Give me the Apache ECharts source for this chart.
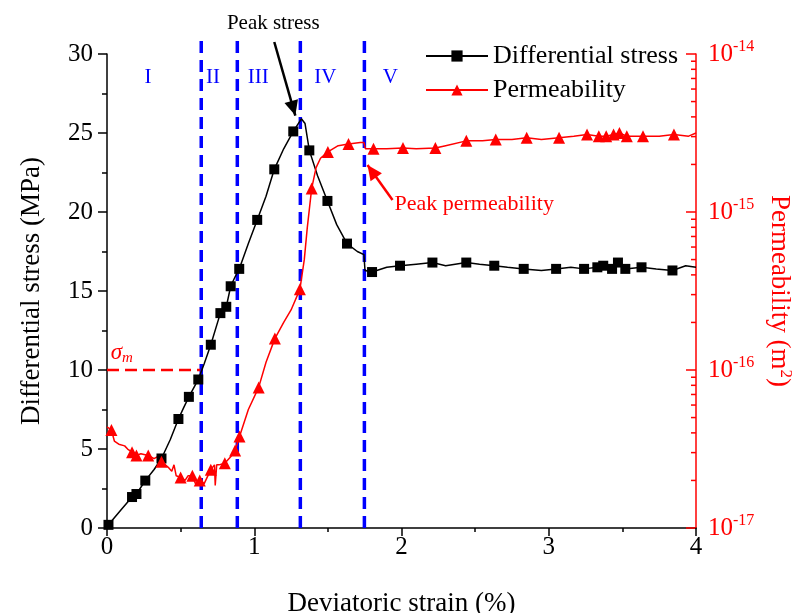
<!DOCTYPE html>
<html><head><meta charset="utf-8">
<script src="https://cdn.jsdelivr.net/npm/echarts@6/dist/echarts.min.js"></script>
<style>html,body{margin:0;padding:0;background:#fff}#c{width:793px;height:613px}</style>
</head><body><div id="c"></div>
<script>
// ---- Data ----
// Differential stress: marker points
const stressMarkStrain = [0.01,0.17,0.20,0.26,0.37,0.485,0.556,0.62,0.705,0.77,0.81,0.84,0.898,1.02,1.136,1.265,1.374,1.497,1.63,1.80,1.99,2.21,2.44,2.63,2.83,3.05,3.24,3.33,3.37,3.43,3.47,3.52,3.63,3.84];
const stressMarkMPa    = [0.2,1.96,2.15,3.0,4.4,6.9,8.3,9.4,11.6,13.6,14.0,15.3,16.4,19.5,22.7,25.1,23.9,20.7,18.0,16.2,16.6,16.8,16.8,16.6,16.4,16.4,16.4,16.5,16.6,16.4,16.8,16.4,16.5,16.3];
// Differential stress: curve vertices between markers
const stressLineStrain = [0,0.10,0.32,0.43,0.52,0.66,0.87,0.96,1.08,1.20,1.32,1.345,1.43,1.56,1.70,1.745,1.752,1.90,2.10,2.30,2.53,2.72,2.95,3.15,3.73,3.93,4.0];
const stressLineMPa    = [0,1.2,3.7,5.6,7.6,10.4,15.9,18.0,21.0,24.0,25.9,25.6,22.3,19.2,17.5,17.3,16.3,16.5,16.7,16.6,16.7,16.5,16.3,16.5,16.4,16.6,16.5];
// Permeability (m^2): marker points
const permMarkStrain = [0.03,0.17,0.20,0.28,0.37,0.50,0.58,0.63,0.705,0.80,0.87,0.90,1.03,1.14,1.31,1.39,1.50,1.64,1.81,2.01,2.23,2.44,2.64,2.85,3.07,3.26,3.34,3.39,3.44,3.48,3.53,3.64,3.85];
const permMarkK      = [4.17e-17,3.02e-17,2.88e-17,2.88e-17,2.63e-17,2.09e-17,2.14e-17,2.00e-17,2.34e-17,2.57e-17,3.09e-17,3.80e-17,7.76e-17,1.58e-16,3.24e-16,1.41e-15,2.40e-15,2.69e-15,2.51e-15,2.54e-15,2.54e-15,2.82e-15,2.88e-15,2.95e-15,2.95e-15,3.09e-15,3.02e-15,3.02e-15,3.09e-15,3.16e-15,3.02e-15,3.02e-15,3.09e-15];
// Permeability: curve vertices between markers
const permLineStrain = [0.0,0.05,0.08,0.12,0.14,0.23,0.32,0.34,0.42,0.44,0.455,0.47,0.53,0.55,0.60,0.66,0.68,0.73,0.735,0.745,0.76,0.84,0.96,1.08,1.20,1.25,1.34,1.36,1.42,1.45,1.57,1.72,1.745,1.755,1.90,2.10,2.30,2.55,2.75,2.95,3.17,3.75,3.95,4.0];
const permLineK      = [4.37e-17,3.55e-17,3.39e-17,3.31e-17,3.16e-17,2.95e-17,2.75e-17,2.82e-17,2.40e-17,2.29e-17,2.51e-17,2.14e-17,2.00e-17,2.14e-17,1.91e-17,1.91e-17,2.09e-17,2.51e-17,1.86e-17,2.51e-17,2.51e-17,2.82e-17,5.62e-17,1.12e-16,2.00e-16,2.40e-16,5.01e-16,7.94e-16,1.91e-15,2.19e-15,2.63e-15,2.75e-15,2.75e-15,2.51e-15,2.51e-15,2.51e-15,2.63e-15,2.82e-15,2.88e-15,2.88e-15,3.02e-15,3.02e-15,3.02e-15,3.16e-15];
// Stage boundaries (strain %) and stage labels
const stageBounds = [0.64,0.885,1.313,1.748];
const stageNames  = ['I','II','III','IV','V'];
const stageLabelStrain = [0.279,0.72,1.027,1.483,1.925];
const sigmaM = 10;
// Axis ticks
const permDecades = [-17,-16,-15,-14];

const FONT = "'Liberation Serif','Times New Roman',serif";

function merge(lx, ly, mx, my, tf) {
  const pts = [];
  lx.forEach((x, i) => pts.push({value:[x, tf(ly[i])], symbol:'none', k:x}));
  mx.forEach((x, i) => pts.push({value:[x, tf(my[i])], k:x}));
  pts.sort((a,b) => a.k - b.k);
  return pts.map(p => { const o = {value:p.value}; if (p.symbol) o.symbol = p.symbol; return o; });
}
const stressData = merge(stressLineStrain, stressLineMPa, stressMarkStrain, stressMarkMPa, v => v);
const permData = merge(permLineStrain, permLineK, permMarkStrain, permMarkK, v => Math.log10(v));

// minor log ticks on permeability axis
const minorLog = [];
for (let d = 0; d < permDecades.length - 1; d++) {
  for (let m = 2; m <= 9; m++) minorLog.push([4, permDecades[d] + Math.log10(m)]);
}

// annotation segments: [x1, y1, x2, y2, kind]
const segs = [];
stageBounds.forEach(x => segs.push([x, 0, x, 30.9, 0]));
segs.push([0, sigmaM, 0.633, sigmaM, 1]);
segs.push([1.136, 30.76, 1.279, 26.1, 2]);
segs.push([1.939, 20.76, 1.769, 22.97, 3]);

const blue = '#0000ff', red = '#ff0000';

// text annotations: [x, y, index into textDefs]
const textDefs = [];
const textPos = [];
stageNames.forEach((n, i) => { textDefs.push({text:n, fill:blue, font:'21px ' + FONT, align:'center'}); textPos.push([stageLabelStrain[i], 28.5, textDefs.length - 1]); });
textDefs.push({text:'Peak stress', fill:'#000', font:'21px ' + FONT, align:'center'}); textPos.push([1.129, 31.9, textDefs.length - 1]);
textDefs.push({text:'Peak permeability', fill:red, font:'22px ' + FONT, align:'left'}); textPos.push([1.952, 20.5, textDefs.length - 1]);
textDefs.push({text:'{s|σ}{m|m}', fill:red, font:'italic 23px ' + FONT, align:'center',
  rich:{s:{fontFamily:FONT, fontStyle:'italic', fontSize:23, fill:red}, m:{fontFamily:FONT, fontStyle:'italic', fontSize:15, fill:red, verticalAlign:'bottom', padding:[10,0,0,0]}}});
textPos.push([0.10, 11.1, textDefs.length - 1]);

const chart = echarts.init(document.getElementById('c'), null, {renderer:'canvas'});

function arrowHead(p0, p1, color) {
  const dx = p1[0]-p0[0], dy = p1[1]-p0[1];
  const L = Math.sqrt(dx*dx+dy*dy), ux = dx/L, uy = dy/L;
  const len = 15, w = 7;
  const bx = p1[0]-ux*len, by = p1[1]-uy*len;
  return {type:'polygon', shape:{points:[[p1[0],p1[1]],[bx-uy*w, by+ux*w],[bx+uy*w, by-ux*w]]}, style:{fill:color}};
}

chart.setOption({
  animation: false,
  backgroundColor: '#fff',
  textStyle: {fontFamily: FONT},
  grid: {left:107, right:97, top:54, bottom:85, containLabel:false, outerBoundsMode:'none'},
  legend: {
    left: 420, top: 38, orient:'vertical', itemWidth: 62, itemHeight: 14, itemGap: 8,
    textStyle: {fontFamily: FONT, fontSize: 26, color:'#000'},
    data: ['Differential stress','Permeability']
  },
  xAxis: {
    type:'value', min:0, max:4, interval:1,
    name:'Deviatoric strain (%)', nameLocation:'middle', nameGap:62,
    nameTextStyle:{fontFamily:FONT, fontSize:27, color:'#000'},
    axisLine:{lineStyle:{color:'#000', width:1.5}},
    axisTick:{length:8, lineStyle:{color:'#000', width:1.5}},
    minorTick:{show:true, splitNumber:2, length:4, lineStyle:{color:'#000', width:1.5}},
    axisLabel:{fontFamily:FONT, fontSize:25, color:'#000', margin:7},
    splitLine:{show:false}
  },
  yAxis: [{
    type:'value', min:0, max:30, interval:5, position:'left',
    name:'Differential stress (MPa)', nameLocation:'middle', nameGap:62, nameRotate:90,
    nameTextStyle:{fontFamily:FONT, fontSize:27, color:'#000'},
    axisLine:{show:true, lineStyle:{color:'#000', width:1.5}},
    axisTick:{show:true, length:9, lineStyle:{color:'#000', width:1.5}},
    minorTick:{show:true, splitNumber:2, length:5, lineStyle:{color:'#000', width:1.5}},
    axisLabel:{fontFamily:FONT, fontSize:25, color:'#000', margin:14},
    splitLine:{show:false}
  },{
    type:'value', min:-17, max:-14, interval:1, position:'right',
    name:'Permeability (m{sup|2})', nameLocation:'middle', nameGap:66, nameRotate:-90,
    nameTextStyle:{fontFamily:FONT, fontSize:27, color:red,
      rich:{sup:{fontFamily:FONT, fontSize:17, color:red, verticalAlign:'top', padding:[0,0,14,0]}}},
    axisLine:{show:true, lineStyle:{color:red, width:1.5}},
    axisTick:{show:true, inside:true, length:10, lineStyle:{color:red, width:1.5}},
    axisLabel:{color:red, margin:12, fontFamily:FONT, fontSize:25,
      formatter: v => '10{sup|' + v + '}',
      rich:{sup:{fontFamily:FONT, fontSize:16, color:red, verticalAlign:'top', padding:[0,0,14,0]}}},
    splitLine:{show:false}
  }],
  series: [
    {
      // stage boundaries, sigma_m line and arrows
      type:'custom', yAxisIndex:0, data:segs, clip:false, silent:true, z:1,
      renderItem: (params, api) => {
        const p0 = api.coord([api.value(0), api.value(1)]);
        const p1 = api.coord([api.value(2), api.value(3)]);
        const kind = api.value(4);
        const line = {type:'line', shape:{x1:p0[0], y1:p0[1], x2:p1[0], y2:p1[1]}, style:{}};
        if (kind === 0) { line.style = {stroke:blue, lineWidth:3.5, lineDash:[12,7]}; return line; }
        if (kind === 1) { line.style = {stroke:red, lineWidth:2.5, lineDash:[12,6]}; return line; }
        const color = kind === 2 ? '#000' : red;
        line.style = {stroke:color, lineWidth:2.5};
        return {type:'group', children:[line, arrowHead(p0, p1, color)]};
      }
    },
    {
      name:'Differential stress', type:'line', data:stressData, yAxisIndex:0,
      symbol:'rect', symbolSize:10, showAllSymbol:true,
      lineStyle:{color:'#000', width:1.5}, itemStyle:{color:'#000'}, z:3
    },
    {
      name:'Permeability', type:'line', data:permData, yAxisIndex:1,
      symbol:'triangle', symbolSize:12, showAllSymbol:true,
      lineStyle:{color:red, width:1.5}, itemStyle:{color:red}, z:3
    },
    {
      // minor log ticks on the permeability axis
      type:'custom', yAxisIndex:1, data:minorLog, clip:false, silent:true, z:5,
      renderItem: (params, api) => {
        const p = api.coord([api.value(0), api.value(1)]);
        return {type:'line', shape:{x1:p[0]-5, y1:p[1], x2:p[0], y2:p[1]}, style:{stroke:red, lineWidth:1.5}};
      }
    },
    {
      // text annotations
      type:'custom', yAxisIndex:0, data:textPos, clip:false, silent:true, z:6,
      renderItem: (params, api) => {
        const p = api.coord([api.value(0), api.value(1)]);
        const d = textDefs[api.value(2)];
        const style = {text:d.text, fill:d.fill, font:d.font, align:d.align, verticalAlign:'middle', x:p[0], y:p[1]};
        if (d.rich) style.rich = d.rich;
        return {type:'text', style:style};
      }
    }
  ]
});
</script></body></html>
